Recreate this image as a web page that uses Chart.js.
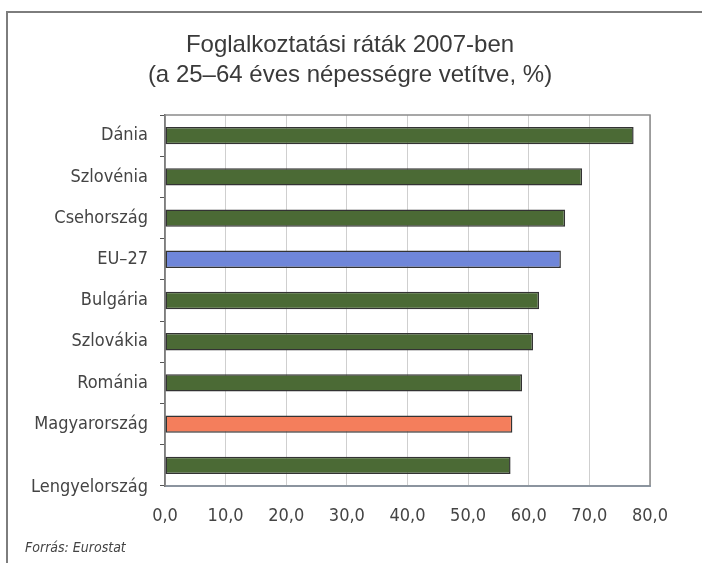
<!DOCTYPE html>
<html>
<head>
<meta charset="utf-8">
<title>Foglalkoztatási ráták 2007-ben</title>
<script src="https://cdn.jsdelivr.net/npm/chart.js@4/dist/chart.umd.min.js"></script>
<style>
  html, body { margin: 0; padding: 0; background: #fff; }
  #wrap { width: 702px; height: 563px; position: relative; }
</style>
</head>
<body>
<div id="wrap"><canvas id="barChart"></canvas></div>
<script>
// employment rates, 25-64 year olds, 2007 (%)
var countries = ['Dánia', 'Szlovénia', 'Csehország', 'EU–27', 'Bulgária', 'Szlovákia', 'Románia', 'Magyarország', 'Lengyelország'];
var rates = [77.3, 68.8, 66.0, 65.3, 61.7, 60.7, 58.9, 57.3, 57.0];
var xTicks = [0, 10, 20, 30, 40, 50, 60, 70, 80];
var titleLines = ['Foglalkoztatási ráták 2007-ben', '(a 25–64 éves népességre vetítve, %)'];

var narrow = "'Liberation Sans Narrow', 'Arial Narrow', 'DejaVu Sans Condensed', sans-serif";
var green = '#4b6a35';
var special = { 'EU–27': '#6f86d9', 'Magyarország': '#f47e5c' };

var barColors = countries.map(function (c) { return special[c] || green; });

// frame around the figure, title, plot border and source line
var decor = {
    id: 'decor',
    beforeDatasetsDraw: function (chart) {
        var a = chart.chartArea, ctx = chart.ctx;
        ctx.save();
        ctx.strokeStyle = '#8a8a8a';
        ctx.lineWidth = 1.5;
        ctx.strokeRect(a.left, a.top, a.right - a.left, a.bottom - a.top);
        ctx.restore();
    },
    afterDraw: function (chart) {
        var ctx = chart.ctx;
        ctx.save();
        ctx.strokeStyle = '#7d7d7d';
        ctx.lineWidth = 2;
        ctx.beginPath();
        ctx.moveTo(702, 12);
        ctx.lineTo(7, 12);
        ctx.lineTo(7, 563);
        ctx.stroke();

        ctx.fillStyle = '#3a3a3a';
        ctx.font = "24px 'Liberation Sans', Arial, sans-serif";
        ctx.textAlign = 'center';
        ctx.textBaseline = 'middle';
        ctx.fillText(titleLines[0], 350, 45);
        ctx.fillText(titleLines[1], 350, 75);

        ctx.fillStyle = '#444';
        ctx.textAlign = 'left';
        ctx.font = 'italic 14px ' + narrow;
        ctx.fillText('Forrás: Eurostat', 25, 548);
        ctx.restore();
    }
};

var ctx = document.getElementById('barChart').getContext('2d');
var chart = new Chart(ctx, {
    type: 'bar',
    data: {
        labels: countries,
        datasets: [{
            data: rates,
            backgroundColor: barColors,
            borderColor: '#333',
            borderWidth: 1.5,
            borderSkipped: false,
            barPercentage: 0.42,
            categoryPercentage: 1
        }]
    },
    options: {
        indexAxis: 'y',
        responsive: true,
        maintainAspectRatio: false,
        animation: false,
        layout: { padding: { left: 0, right: 52, top: 115, bottom: 0 } },
        plugins: {
            legend: { display: false },
            tooltip: { enabled: false },
            title: { display: false }
        },
        scales: {
            x: {
                min: 0,
                max: 80,
                afterBuildTicks: function (s) {
                    s.ticks = xTicks.map(function (v) { return { value: v }; });
                },
                afterFit: function (s) { s.height = 77; },
                border: { display: true, color: '#8fb3dc', width: 2 },
                grid: { color: '#cfcfcf', lineWidth: 1, drawTicks: false },
                ticks: {
                    color: '#444',
                    padding: 20,
                    font: { family: narrow, size: 18 },
                    callback: function (v) { return v.toFixed(1).replace('.', ','); }
                }
            },
            y: {
                afterFit: function (s) { s.width = 165; },
                border: { display: true, color: '#555', width: 1.5 },
                grid: { drawOnChartArea: false, drawTicks: true, tickLength: 5, offset: true, color: '#555' },
                ticks: {
                    autoSkip: false,
                    color: '#444',
                    padding: 12,
                    font: { family: narrow, size: 18, lineHeight: 1.2 },
                    callback: function (v, i) {
                        var name = countries[i];
                        // last label sits below its bar
                        return name === 'Lengyelország' ? ['', '', name] : name;
                    }
                }
            }
        }
    },
    plugins: [decor]
});
</script>
</body>
</html>
